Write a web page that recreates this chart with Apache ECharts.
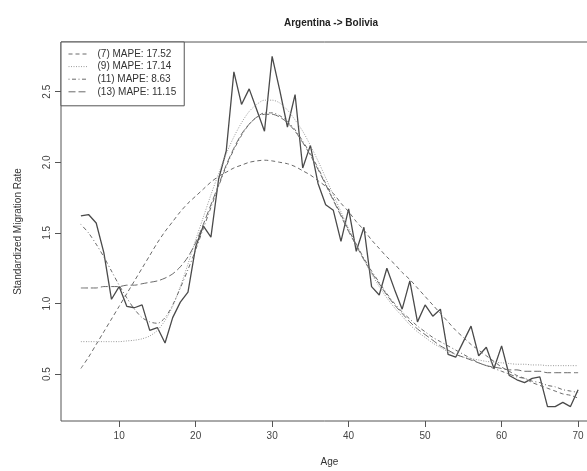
<!DOCTYPE html>
<html>
<head>
<meta charset="utf-8">
<script src="https://cdn.jsdelivr.net/npm/echarts@6/dist/echarts.min.js"></script>
<style>
html,body{margin:0;padding:0;background:#fff}
#chart{width:587px;height:471px}
</style>
</head>
<body>
<div id="chart"></div>
<script>
// ages on the x axis
var ages = [5,6,7,8,9,10,11,12,13,14,15,16,17,18,19,20,21,22,23,24,25,26,27,28,29,30,
  31,32,33,34,35,36,37,38,39,40,41,42,43,44,45,46,47,48,49,50,51,52,53,54,55,56,57,58,59,60,
  61,62,63,64,65,66,67,68,69,70];

// observed standardized migration rate
var observed = [1.62,1.63,1.57,1.36,1.03,1.12,0.98,0.97,0.99,0.81,0.83,0.72,0.90,1.01,1.08,1.40,
  1.55,1.47,1.88,2.08,2.64,2.41,2.52,2.37,2.22,2.75,2.51,2.25,2.48,1.96,2.12,1.85,1.70,1.66,1.44,1.67,
  1.37,1.54,1.12,1.06,1.25,1.10,0.96,1.16,0.87,0.99,0.91,0.96,0.64,0.62,0.73,0.84,0.63,0.69,0.54,0.70,
  0.49,0.46,0.44,0.47,0.48,0.27,0.27,0.30,0.27,0.39];

// fitted model curves
var fit7 = [0.54,0.62,0.71,0.80,0.89,0.98,1.07,1.16,1.25,1.34,1.43,1.51,1.58,1.65,1.71,1.76,
  1.81,1.86,1.90,1.93,1.96,1.98,2.00,2.01,2.015,2.01,2.00,1.99,1.97,1.94,1.91,1.87,1.83,1.78,1.71,1.65,
  1.58,1.52,1.45,1.39,1.33,1.28,1.22,1.17,1.11,1.05,0.99,0.93,0.87,0.81,0.76,0.71,0.67,0.63,0.59,0.55,
  0.52,0.49,0.47,0.44,0.42,0.40,0.38,0.36,0.35,0.33];
var fit9 = [0.73,0.73,0.73,0.73,0.73,0.73,0.735,0.74,0.75,0.77,0.81,0.88,0.98,1.12,1.28,1.45,
  1.61,1.77,1.92,2.06,2.18,2.28,2.36,2.41,2.44,2.44,2.42,2.37,2.30,2.22,2.12,2.01,1.89,1.77,1.65,1.53,
  1.42,1.31,1.21,1.12,1.04,0.97,0.91,0.85,0.80,0.76,0.72,0.69,0.66,0.64,0.62,0.61,0.60,0.59,0.585,0.58,
  0.575,0.57,0.57,0.565,0.565,0.56,0.56,0.56,0.56,0.56];
var fit11 = [1.56,1.50,1.42,1.33,1.23,1.13,1.04,0.96,0.90,0.87,0.86,0.90,0.99,1.11,1.24,1.38,
  1.53,1.68,1.83,1.97,2.09,2.19,2.27,2.32,2.35,2.35,2.33,2.29,2.23,2.15,2.06,1.96,1.85,1.74,1.63,1.52,
  1.42,1.32,1.23,1.15,1.07,1.00,0.94,0.89,0.84,0.80,0.76,0.73,0.70,0.67,0.64,0.61,0.58,0.56,0.54,0.52,
  0.50,0.48,0.47,0.45,0.44,0.42,0.41,0.39,0.38,0.37];
var fit13 = [1.11,1.11,1.11,1.12,1.12,1.12,1.13,1.13,1.14,1.15,1.16,1.18,1.21,1.26,1.33,1.43,
  1.56,1.70,1.84,1.98,2.10,2.20,2.27,2.32,2.34,2.34,2.32,2.28,2.22,2.14,2.05,1.95,1.84,1.73,1.62,1.51,
  1.41,1.31,1.22,1.14,1.06,0.99,0.93,0.87,0.82,0.78,0.74,0.70,0.67,0.64,0.62,0.60,0.58,0.56,0.55,0.54,
  0.53,0.53,0.52,0.52,0.52,0.51,0.51,0.51,0.51,0.51];

var fitNames = ['(7) MAPE: 17.52', '(9) MAPE: 17.14', '(11) MAPE: 8.63', '(13) MAPE: 11.15'];
var xTicks = [10,20,30,40,50,60,70];
var yTicks = [0.5,1.0,1.5,2.0,2.5];

function pairs(vals) {
    return ages.map(function (a, i) { return [a, vals[i]]; });
}

var font = 'Liberation Sans, Arial, Helvetica, sans-serif';
var myChart = echarts.init(document.getElementById('chart'));

var fitStyles = [
    {data: fit7,  color: '#6a6a6a', type: [4, 3]},
    {data: fit9,  color: '#9a9a9a', type: [1, 1.5]},
    {data: fit11, color: '#6a6a6a', type: [1, 2.5, 4, 2.5]},
    {data: fit13, color: '#6a6a6a', type: [7, 3]}
];

var series = [{
    name: 'observed',
    type: 'line',
    data: pairs(observed),
    symbol: 'none',
    itemStyle: {color: '#4a4a4a'},
    lineStyle: {color: '#4a4a4a', width: 1.3},
    z: 2
}];
fitStyles.forEach(function (f, i) {
    series.push({
        name: fitNames[i],
        type: 'line',
        data: pairs(f.data),
        symbol: 'none',
        smooth: 0.3,
        itemStyle: {color: f.color},
        lineStyle: {color: f.color, width: 1, type: f.type},
        z: 3
    });
});

myChart.setOption({
    animation: false,
    backgroundColor: '#fff',
    title: {
        text: 'Argentina -> Bolivia',
        left: 326,
        top: 13,
        textAlign: 'center',
        textStyle: {fontFamily: font, fontSize: 10, fontWeight: 'bold', color: '#222'}
    },
    legend: {
        data: fitNames,
        orient: 'vertical',
        left: 61,
        top: 42,
        padding: [7, 8, 9, 7],
        itemGap: 2.6,
        itemWidth: 20,
        itemHeight: 10,
        borderColor: '#555',
        borderWidth: 1,
        backgroundColor: '#fff',
        itemStyle: {opacity: 0},
        lineStyle: {width: 1},
        textStyle: {fontFamily: font, fontSize: 10, color: '#333', padding: [0, 0, 0, 4]}
    },
    grid: {
        left: 61,
        top: 42,
        width: 537,
        height: 379,
        outerBoundsMode: 'none',
        containLabel: false,
        show: true,
        borderColor: '#555',
        borderWidth: 1,
        backgroundColor: 'transparent'
    },
    xAxis: {
        type: 'value',
        min: 2.4,
        max: 72.6,
        name: 'Age',
        nameLocation: 'middle',
        nameGap: 36,
        nameTextStyle: {fontFamily: font, fontSize: 10, color: '#333'},
        axisLine: {show: false},
        axisTick: {show: true, length: 6, customValues: xTicks, lineStyle: {color: '#555'}},
        axisLabel: {customValues: xTicks, margin: 10, fontFamily: font, fontSize: 10, color: '#444'},
        splitLine: {show: false}
    },
    yAxis: {
        type: 'value',
        min: 0.168,
        max: 2.852,
        name: 'Standardized Migration Rate',
        nameLocation: 'middle',
        nameGap: 38,
        nameTextStyle: {fontFamily: font, fontSize: 10, color: '#333'},
        axisLine: {show: false},
        axisTick: {show: true, length: 6, customValues: yTicks, lineStyle: {color: '#555'}},
        axisLabel: {
            customValues: yTicks,
            rotate: 90,
            margin: 9,
            fontFamily: font,
            fontSize: 10,
            color: '#444',
            formatter: function (v) { return v.toFixed(1); }
        },
        splitLine: {show: false}
    },
    series: series
});
</script>
</body>
</html>
